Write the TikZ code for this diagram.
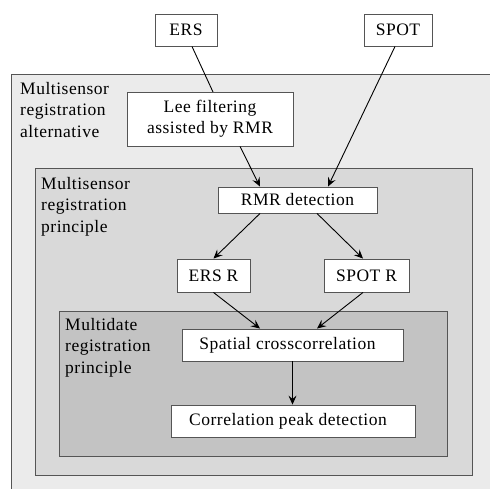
\documentclass[tikz,border=0pt]{standalone}
\usepackage{fontspec}
\setmainfont[LetterSpace=3]{Liberation Serif}
\usetikzlibrary{arrows.meta,calc}
\definecolor{outerfill}{HTML}{EBEBEB}
\definecolor{midfill}{HTML}{D9D9D9}
\definecolor{innerfill}{HTML}{C3C3C3}
\definecolor{edgegray}{HTML}{555555}
\tikzset{
  region/.style={draw=edgegray, line width=1pt},
  procbox/.style={draw=edgegray, fill=white, line width=0.9pt, inner sep=0pt, align=center,
    font=\fontsize{17.5}{21}\selectfont},
  lbl/.style={anchor=north west, align=left, inner sep=0pt, font=\fontsize{17.5}{21.5}\selectfont},
  flow/.style={line width=0.9pt, -{Stealth[length=9pt,width=8pt,inset=3.5pt]}},
  plain/.style={line width=0.9pt}
}
\begin{document}
\begin{tikzpicture}[x=1pt,y=-1pt]
\useasboundingbox (0,0) rectangle (490,488);
\fill[white] (0,0) rectangle (490,488);
\begin{scope}
\clip (0,0) rectangle (490,488);
\draw[region, fill=outerfill] (11,74) rectangle (500,500);
\end{scope}
\draw[region, fill=midfill] (35,168) rectangle (472,475);
\draw[region, fill=innerfill] (59,311) rectangle (447,456);

\node[lbl] (lblalt) at (20,82) {Multisensor\\registration\\alternative};
\node[lbl] (lblprin) at (41,177) {Multisensor\\registration\\principle};
\node[lbl] (lbldate) at (65,318) {Multidate\\registration\\principle};

\node[procbox, minimum width=62pt, minimum height=32pt] (ers) at (186,30) {ERS};
\node[procbox, minimum width=68pt, minimum height=32pt] (spot) at (398,30) {SPOT};
\coordinate (leein) at (213,92);
\draw[plain] ([xshift=6pt]ers.south) -- (leein);
\node[procbox, minimum width=166pt, minimum height=54pt] (lee) at (210,119) {Lee filtering\\assisted by RMR};
\node[procbox, minimum width=159pt, minimum height=26pt] (rmr) at (297.5,200) {RMR detection};
\node[procbox, minimum width=73pt, minimum height=33pt] (ersr) at (213.5,275.5) {ERS R};
\node[procbox, minimum width=85pt, minimum height=33pt] (spotr) at (366.5,275.5) {SPOT R};
\node[procbox, minimum width=221pt, minimum height=32pt] (spatial) at (292.5,345) {Spatial crosscorrelation\hspace*{10pt}};
\node[procbox, minimum width=244pt, minimum height=32pt] (corr) at (293,421) {Correlation peak detection\hspace*{10pt}};

\draw[flow] ([xshift=30pt]lee.south) -- ([xshift=-37.5pt]rmr.north);
\draw[flow] ([xshift=-3pt]spot.south) -- ([xshift=30.5pt]rmr.north);
\draw[flow] ([xshift=-37.5pt]rmr.south) -- (ersr.north);
\draw[flow] ([xshift=19.5pt]rmr.south) -- ([xshift=-3.5pt]spotr.north);
\draw[flow] (ersr.south) -- ([xshift=-32.5pt]spatial.north);
\draw[flow] ([xshift=-3.5pt]spotr.south) -- ([xshift=24.5pt]spatial.north);
\draw[flow] (spatial.south) -- (spatial.south |- corr.north);
\end{tikzpicture}
\end{document}
